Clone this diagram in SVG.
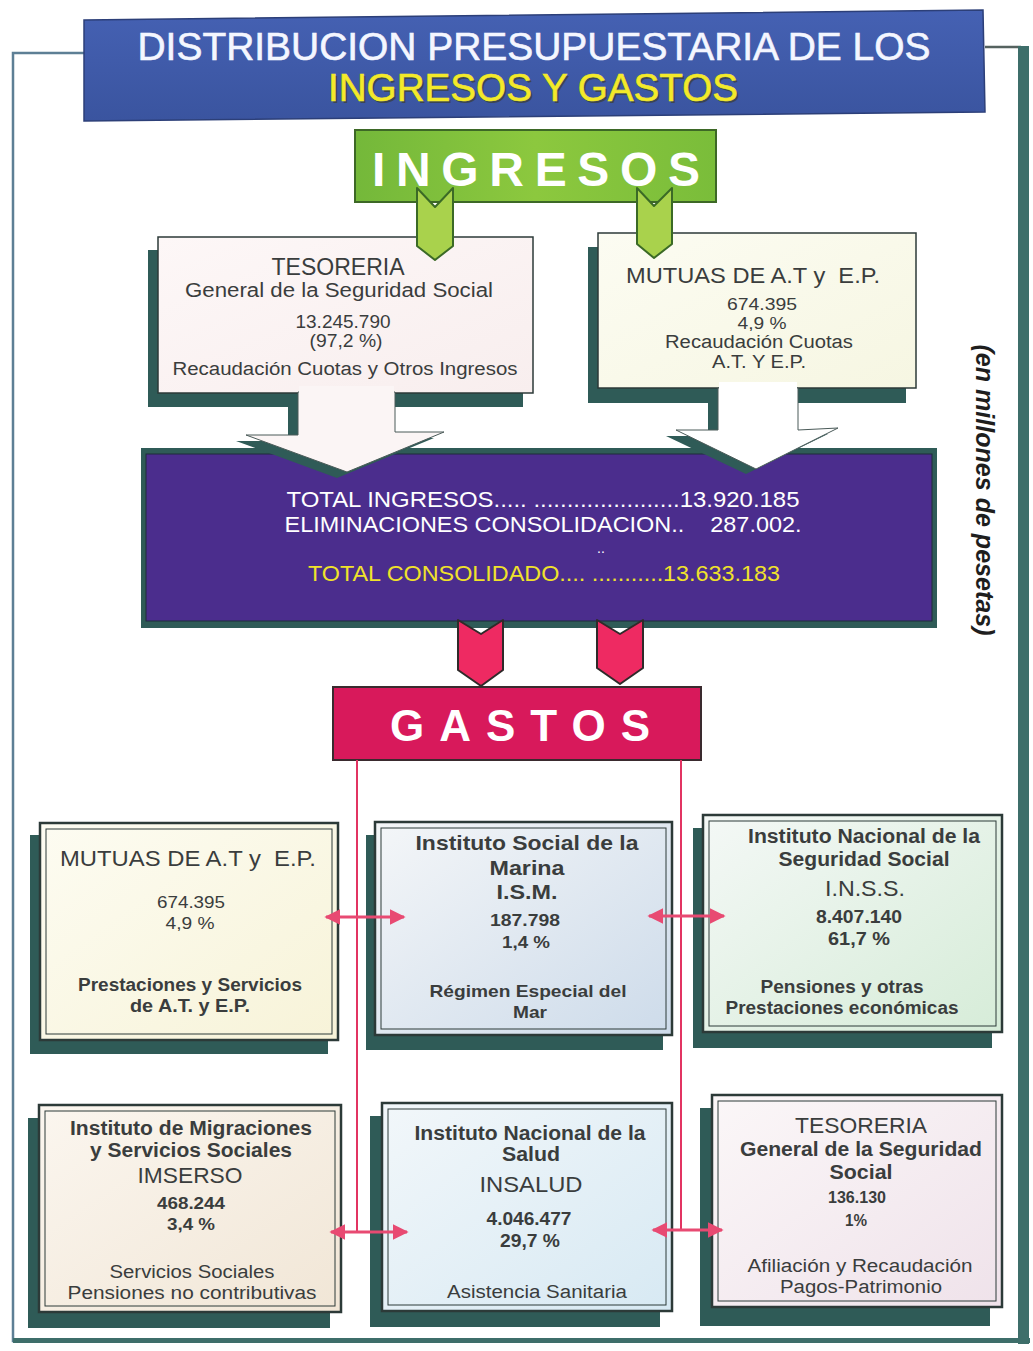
<svg xmlns="http://www.w3.org/2000/svg" width="1033" height="1351" viewBox="0 0 1033 1351">
<defs>
<style>
text{font-family:"Liberation Sans",Arial,sans-serif;text-anchor:middle;white-space:pre;}
.t{fill:#3a3d3d;}
.b{font-weight:bold;}
.shadow{fill:#2f5b57;}
.gbox{stroke:#2c3a38;stroke-width:2.5;}
.inner{fill:none;stroke:#2c3a38;stroke-width:1;}
.conn{stroke:#e23462;stroke-width:2;fill:none;}
.dbl{stroke:#e84a72;stroke-width:3;fill:none;marker-start:url(#ah);marker-end:url(#ah);}
</style>
<marker id="ah" viewBox="0 0 10 10" refX="9" refY="5" markerWidth="16" markerHeight="16" markerUnits="userSpaceOnUse" orient="auto-start-reverse">
<path d="M0,0 L10,5 L0,10 Z" fill="#e84a72"/>
</marker>
<linearGradient id="gBlue" x1="0" y1="0" x2="0" y2="1"><stop offset="0" stop-color="#4561b3"/><stop offset="1" stop-color="#3a549f"/></linearGradient>
<linearGradient id="gGreen" x1="0" y1="0" x2="1" y2="0"><stop offset="0" stop-color="#74b83a"/><stop offset="0.5" stop-color="#8cc83e"/><stop offset="1" stop-color="#7abd3a"/></linearGradient>
<linearGradient id="gA" x1="0" y1="0" x2="1" y2="1"><stop offset="0" stop-color="#fdfcf2"/><stop offset="1" stop-color="#f7f3d8"/></linearGradient>
<linearGradient id="gB" x1="0" y1="0" x2="1" y2="1"><stop offset="0" stop-color="#f4f6f8"/><stop offset="1" stop-color="#cddbea"/></linearGradient>
<linearGradient id="gC" x1="0" y1="0" x2="1" y2="1"><stop offset="0" stop-color="#f4f8f6"/><stop offset="1" stop-color="#d6ecd8"/></linearGradient>
<linearGradient id="gD" x1="0" y1="0" x2="1" y2="1"><stop offset="0" stop-color="#fbf6ef"/><stop offset="1" stop-color="#f1e6d6"/></linearGradient>
<linearGradient id="gE" x1="0" y1="0" x2="1" y2="1"><stop offset="0" stop-color="#f2f7fa"/><stop offset="1" stop-color="#d7e9f3"/></linearGradient>
<linearGradient id="gF" x1="0" y1="0" x2="1" y2="1"><stop offset="0" stop-color="#fbf7f8"/><stop offset="1" stop-color="#efe2ea"/></linearGradient>
<linearGradient id="gT" x1="0" y1="0" x2="1" y2="1"><stop offset="0" stop-color="#fdf7f7"/><stop offset="1" stop-color="#f8eeee"/></linearGradient>
<linearGradient id="gM" x1="0" y1="0" x2="1" y2="1"><stop offset="0" stop-color="#fcfcf2"/><stop offset="1" stop-color="#f6f6e2"/></linearGradient>
</defs>
<rect width="1033" height="1351" fill="#ffffff"/>

<!-- outer frame -->
<g id="frame">
<path d="M84,53 H13 V1341 H1030" fill="none" stroke="#5d7f95" stroke-width="2.5"/>
<path d="M985,47 H1021" fill="none" stroke="#55625f" stroke-width="2.5"/>
<rect x="1018" y="46" width="11" height="1298" fill="#3e6e6a"/>
<rect x="13" y="1338" width="1017" height="5" fill="#3e6e6a"/>
</g>

<!-- title -->
<g id="title">
<polygon points="84,20 983,10 985,112 84,121" fill="url(#gBlue)" stroke="#2c3f78" stroke-width="1.5"/>
<text x="534" y="60" font-size="38" fill="#f4f6ff" stroke="#f4f6ff" stroke-width="0.6" textLength="793" lengthAdjust="spacingAndGlyphs">DISTRIBUCION PRESUPUESTARIA DE LOS</text>
<text x="535" y="103" font-size="38" fill="#3a3a20" textLength="410" lengthAdjust="spacingAndGlyphs" opacity="0.6">INGRESOS Y GASTOS</text>
<text x="533" y="101" font-size="38" fill="#f3ea2a" stroke="#f3ea2a" stroke-width="0.6" textLength="410" lengthAdjust="spacingAndGlyphs">INGRESOS Y GASTOS</text>
</g>

<!-- INGRESOS -->
<g id="ingresos">
<rect x="355" y="130" width="361" height="72" fill="url(#gGreen)" stroke="#3d6826" stroke-width="2"/>
<text x="536" y="186" font-size="48" font-weight="bold" fill="#ffffff" textLength="328" lengthAdjust="spacing">INGRESOS</text>
</g>

<!-- purple totals box -->
<g id="totales">
<rect x="141" y="448" width="796" height="180" fill="#2f5b57"/>
<rect x="146" y="454" width="786" height="167" fill="#4b2d8d" stroke="#1f2d3a" stroke-width="1"/>
<text x="543" y="507" font-size="22" fill="#ffffff" textLength="513" lengthAdjust="spacingAndGlyphs">TOTAL INGRESOS..... ......................13.920.185</text>
<text x="543" y="532" font-size="22" fill="#ffffff" textLength="517" lengthAdjust="spacingAndGlyphs">ELIMINACIONES CONSOLIDACION..    287.002.</text>
<text x="601" y="553" font-size="14" fill="#ffffff">..</text>
<text x="544" y="581" font-size="22" fill="#f0e22a" textLength="472" lengthAdjust="spacingAndGlyphs">TOTAL CONSOLIDADO.... ...........13.633.183</text>
</g>

<!-- Tesoreria (ingresos) -->
<g id="tesoreria-ing">
<rect class="shadow" x="148" y="250" width="375" height="157"/>
<rect x="158" y="237" width="375" height="156" fill="url(#gT)" stroke="#2c3a38" stroke-width="1.5"/>
<text class="t" x="338" y="275" font-size="23" textLength="133" lengthAdjust="spacingAndGlyphs">TESORERIA</text>
<text class="t" x="339" y="297" font-size="20" textLength="308" lengthAdjust="spacingAndGlyphs">General de la Seguridad Social</text>
<text class="t" x="343" y="328" font-size="18" textLength="95" lengthAdjust="spacingAndGlyphs">13.245.790</text>
<text class="t" x="346" y="347" font-size="18" textLength="73" lengthAdjust="spacingAndGlyphs">(97,2 %)</text>
<text class="t" x="345" y="375" font-size="18" textLength="345" lengthAdjust="spacingAndGlyphs">Recaudación Cuotas y Otros Ingresos</text>
</g>

<!-- Mutuas (ingresos) -->
<g id="mutuas-ing">
<rect class="shadow" x="588" y="247" width="318" height="156"/>
<rect x="598" y="233" width="318" height="155" fill="url(#gM)" stroke="#2c3a38" stroke-width="1.5"/>
<text class="t" x="753" y="283" font-size="22" textLength="254" lengthAdjust="spacingAndGlyphs">MUTUAS DE A.T y  E.P.</text>
<text class="t" x="762" y="310" font-size="17" textLength="70" lengthAdjust="spacingAndGlyphs">674.395</text>
<text class="t" x="762" y="329" font-size="16" textLength="49" lengthAdjust="spacingAndGlyphs">4,9 %</text>
<text class="t" x="759" y="348" font-size="18" textLength="188" lengthAdjust="spacingAndGlyphs">Recaudación Cuotas</text>
<text class="t" x="759" y="368" font-size="18" textLength="94" lengthAdjust="spacingAndGlyphs">A.T. Y E.P.</text>
</g>

<!-- GASTOS -->
<g id="gastos">
<rect x="333" y="687" width="368" height="73" fill="#d8195b" stroke="#3a2a2e" stroke-width="2"/>
<text x="520" y="741" font-size="44" font-weight="bold" fill="#ffffff" textLength="260" lengthAdjust="spacing">GASTOS</text>
</g>

<!-- connectors -->
<g id="connectors">
<!-- big white arrows ingresos -> totales -->
<polygon points="288,396 385,396 385,438 434,438 337,478 236,441 288,441" fill="#2f5b57"/>
<polygon points="298,392 395,392 395,432 444,432 347,472 246,435 298,435" fill="#fbf5f5" stroke="#4a5a58" stroke-width="1"/>
<rect x="299" y="386" width="95" height="10" fill="#fbf5f5"/>
<polygon points="708,392 788,392 788,436 828,434 746,474 666,436 708,436" fill="#2f5b57"/>
<polygon points="718,388 798,388 798,430 838,428 756,469 676,430 718,430" fill="#ffffff" stroke="#4a5a58" stroke-width="1"/>
<rect x="719" y="382" width="78" height="10" fill="#ffffff"/>
<!-- green arrows -->
<polygon points="417,188 435,207 453,188 453,246 435,260 417,246" fill="#a9d24c" stroke="#3b6a26" stroke-width="2" stroke-linejoin="round"/>
<polygon points="637,188 654,206 672,188 672,244 654,258 637,244" fill="#a9d24c" stroke="#3b6a26" stroke-width="2" stroke-linejoin="round"/>
<!-- red arrows -->
<polygon points="458,620 481,634 503,620 503,670 481,686 458,670" fill="#ee2a62" stroke="#2f2a2a" stroke-width="2" stroke-linejoin="round"/>
<polygon points="597,620 620,634 643,620 643,668 620,684 597,668" fill="#ee2a62" stroke="#2f2a2a" stroke-width="2" stroke-linejoin="round"/>
<!-- red distribution lines -->
<path class="conn" d="M357,760 V1232"/>
<path class="conn" d="M681,760 V1230"/>
</g>

<!-- Gastos boxes -->
<g id="mutuas-gas">
<rect class="shadow" x="30" y="835" width="298" height="219"/>
<rect class="gbox" x="40" y="823" width="298" height="217" fill="url(#gA)"/>
<rect class="inner" x="46" y="829" width="286" height="205"/>
<text class="t" x="188" y="866" font-size="22" textLength="256" lengthAdjust="spacingAndGlyphs">MUTUAS DE A.T y  E.P.</text>
<text class="t" x="191" y="908" font-size="17" textLength="68" lengthAdjust="spacingAndGlyphs">674.395</text>
<text class="t" x="190" y="929" font-size="17" textLength="49" lengthAdjust="spacingAndGlyphs">4,9 %</text>
<text class="t b" x="190" y="991" font-size="18" textLength="224" lengthAdjust="spacingAndGlyphs">Prestaciones y Servicios</text>
<text class="t b" x="190" y="1012" font-size="18" textLength="120" lengthAdjust="spacingAndGlyphs">de A.T. y E.P.</text>
</g>

<g id="ism">
<rect class="shadow" x="366" y="835" width="297" height="215"/>
<rect class="gbox" x="375" y="822" width="297" height="213" fill="url(#gB)"/>
<rect class="inner" x="381" y="828" width="285" height="201"/>
<text class="t b" x="527" y="850" font-size="21" textLength="223" lengthAdjust="spacingAndGlyphs">Instituto Social de la</text>
<text class="t b" x="527" y="875" font-size="21" textLength="75" lengthAdjust="spacingAndGlyphs">Marina</text>
<text class="t b" x="527" y="899" font-size="21" textLength="61" lengthAdjust="spacingAndGlyphs">I.S.M.</text>
<text class="t b" x="525" y="926" font-size="17" textLength="70" lengthAdjust="spacingAndGlyphs">187.798</text>
<text class="t b" x="526" y="948" font-size="17" textLength="48" lengthAdjust="spacingAndGlyphs">1,4 %</text>
<text class="t b" x="528" y="997" font-size="17" textLength="197" lengthAdjust="spacingAndGlyphs">Régimen Especial del</text>
<text class="t b" x="530" y="1018" font-size="17" textLength="34" lengthAdjust="spacingAndGlyphs">Mar</text>
</g>

<g id="inss">
<rect class="shadow" x="693" y="828" width="299" height="220"/>
<rect class="gbox" x="703" y="815" width="299" height="217" fill="url(#gC)"/>
<rect class="inner" x="709" y="821" width="287" height="205"/>
<text class="t b" x="864" y="843" font-size="20" textLength="232" lengthAdjust="spacingAndGlyphs">Instituto Nacional de la</text>
<text class="t b" x="864" y="866" font-size="20" textLength="171" lengthAdjust="spacingAndGlyphs">Seguridad Social</text>
<text class="t" x="865" y="896" font-size="22" textLength="80" lengthAdjust="spacingAndGlyphs">I.N.S.S.</text>
<text class="t b" x="859" y="923" font-size="18" textLength="86" lengthAdjust="spacingAndGlyphs">8.407.140</text>
<text class="t b" x="859" y="945" font-size="18" textLength="62" lengthAdjust="spacingAndGlyphs">61,7 %</text>
<text class="t b" x="842" y="993" font-size="18" textLength="163" lengthAdjust="spacingAndGlyphs">Pensiones y otras</text>
<text class="t b" x="842" y="1014" font-size="18" textLength="233" lengthAdjust="spacingAndGlyphs">Prestaciones económicas</text>
</g>

<g id="imserso">
<rect class="shadow" x="28" y="1118" width="302" height="210"/>
<rect class="gbox" x="39" y="1105" width="302" height="207" fill="url(#gD)"/>
<rect class="inner" x="45" y="1111" width="290" height="195"/>
<text class="t b" x="191" y="1135" font-size="20" textLength="242" lengthAdjust="spacingAndGlyphs">Instituto de Migraciones</text>
<text class="t b" x="191" y="1157" font-size="20" textLength="202" lengthAdjust="spacingAndGlyphs">y Servicios Sociales</text>
<text class="t" x="190" y="1183" font-size="22" textLength="105" lengthAdjust="spacingAndGlyphs">IMSERSO</text>
<text class="t b" x="191" y="1209" font-size="17" textLength="68" lengthAdjust="spacingAndGlyphs">468.244</text>
<text class="t b" x="191" y="1230" font-size="17" textLength="48" lengthAdjust="spacingAndGlyphs">3,4 %</text>
<text class="t" x="192" y="1278" font-size="18" textLength="165" lengthAdjust="spacingAndGlyphs">Servicios Sociales</text>
<text class="t" x="192" y="1299" font-size="18" textLength="249" lengthAdjust="spacingAndGlyphs">Pensiones no contributivas</text>
</g>

<g id="insalud">
<rect class="shadow" x="370" y="1116" width="290" height="211"/>
<rect class="gbox" x="382" y="1103" width="290" height="208" fill="url(#gE)"/>
<rect class="inner" x="388" y="1109" width="278" height="196"/>
<text class="t b" x="530" y="1140" font-size="20" textLength="231" lengthAdjust="spacingAndGlyphs">Instituto Nacional de la</text>
<text class="t b" x="531" y="1161" font-size="20" textLength="58" lengthAdjust="spacingAndGlyphs">Salud</text>
<text class="t" x="531" y="1192" font-size="22" textLength="103" lengthAdjust="spacingAndGlyphs">INSALUD</text>
<text class="t b" x="529" y="1225" font-size="18" textLength="85" lengthAdjust="spacingAndGlyphs">4.046.477</text>
<text class="t b" x="530" y="1247" font-size="18" textLength="60" lengthAdjust="spacingAndGlyphs">29,7 %</text>
<text class="t" x="537" y="1298" font-size="18" textLength="180" lengthAdjust="spacingAndGlyphs">Asistencia Sanitaria</text>
</g>

<g id="tesoreria-gas">
<rect class="shadow" x="700" y="1108" width="290" height="218"/>
<rect class="gbox" x="712" y="1095" width="290" height="212" fill="url(#gF)"/>
<rect class="inner" x="718" y="1101" width="278" height="200"/>
<text class="t" x="861" y="1133" font-size="22" textLength="132" lengthAdjust="spacingAndGlyphs">TESORERIA</text>
<text class="t b" x="861" y="1156" font-size="20" textLength="242" lengthAdjust="spacingAndGlyphs">General de la Seguridad</text>
<text class="t b" x="861" y="1179" font-size="20" textLength="63" lengthAdjust="spacingAndGlyphs">Social</text>
<text class="t b" x="857" y="1203" font-size="17" textLength="58" lengthAdjust="spacingAndGlyphs">136.130</text>
<text class="t b" x="856" y="1226" font-size="17" textLength="22" lengthAdjust="spacingAndGlyphs">1%</text>
<text class="t" x="860" y="1272" font-size="18" textLength="225" lengthAdjust="spacingAndGlyphs">Afiliación y Recaudación</text>
<text class="t" x="861" y="1293" font-size="18" textLength="162" lengthAdjust="spacingAndGlyphs">Pagos-Patrimonio</text>
</g>

<!-- double-headed horizontal connectors -->
<g id="connectors-h">
<path class="dbl" d="M326,917 H404"/>
<path class="dbl" d="M649,916 H724"/>
<path class="dbl" d="M331,1232 H407"/>
<path class="dbl" d="M653,1230 H722"/>
</g>

<!-- unit note -->
<g id="nota">
<text transform="translate(976,490) rotate(90)" x="0" y="0" font-family="'Liberation Serif','Times New Roman',serif" font-size="25" font-weight="bold" font-style="italic" fill="#1e1e1e" textLength="291" lengthAdjust="spacingAndGlyphs">(en millones de pesetas)</text>
</g>
</svg>
